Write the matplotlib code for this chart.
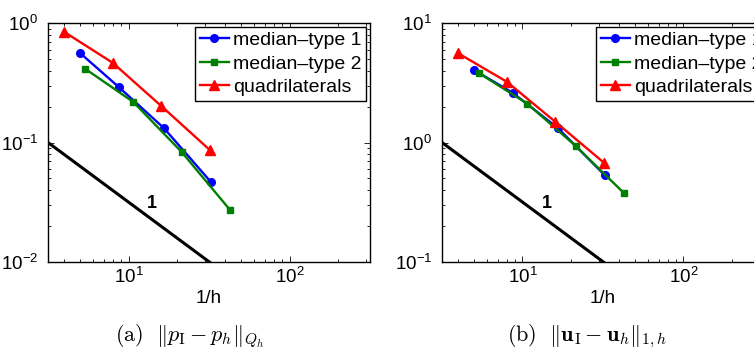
import numpy as np
import matplotlib
matplotlib.use("Agg")
import matplotlib.pyplot as plt
from matplotlib.ticker import NullFormatter, LogLocator

plt.rcParams['font.family'] = ['Liberation Sans', 'DejaVu Sans']
plt.rcParams['mathtext.fontset'] = 'custom'
plt.rcParams['mathtext.rm'] = 'Liberation Sans'
plt.rcParams['mathtext.it'] = 'Liberation Sans:italic'
plt.rcParams['mathtext.bf'] = 'Liberation Sans:bold'

# (a) pressure error
x_med1 = [5.0, 8.7, 16.6, 32.5]
x_med2 = [5.4, 10.7, 21.4, 42.7]
x_quad = [4, 8, 16, 32]
p_med1 = [0.563, 0.292, 0.132, 0.0466]
p_med2 = [0.414, 0.219, 0.0832, 0.0272]
p_quad = [0.845, 0.465, 0.202, 0.0865]

# (b) velocity error
u_med1 = [4.05, 2.61, 1.32, 0.530]
u_med2 = [3.80, 2.12, 0.935, 0.376]
u_quad = [5.59, 3.23, 1.49, 0.678]

labels = ['median\u2013type 1', 'median\u2013type 2', 'quadrilaterals']
captions = [r'$\mathrm{(a)}\ \ \Vert p_{\mathrm{I}} - p_h\Vert_{Q_h}$',
            r'$\mathrm{(b)}\ \ \Vert \mathbf{u}_{\mathrm{I}} - \mathbf{u}_h\Vert_{1,h}$']
xlim = (10 ** 0.5, 10 ** 2.5)
x_ref = np.array([10 ** 0.5, 10 ** 2.0])

fig = plt.figure(figsize=(7.54, 3.54), dpi=100)

W, H = 754.0, 354.0
ax_w = 322 / W
ax_h = (261.7 - 23.3) / H
ax_b = 1 - 261.7 / H
axes = [fig.add_axes([48 / W, ax_b, ax_w, ax_h]),
        fig.add_axes([442 / W, ax_b, ax_w, ax_h])]

panels = [
    (p_med1, p_med2, p_quad, (1e-2, 1e0), 0.1, (14.0, 0.031), (0.988, 0.986), 'upper right'),
    (u_med1, u_med2, u_quad, (1e-1, 1e1), 1.0, (14.2, 0.31), (0.478, 0.986), 'upper left'),
]

green = (0.0, 0.5, 0.0)
for ax, (y1, y2, y3, ylim, c0, lab_pos, anchor, loc) in zip(axes, panels):
    ax.loglog(x_med1, y1, '-o', color='b', lw=1.7, ms=5.5, label=labels[0])
    ax.loglog(x_med2, y2, '-s', color=green, lw=1.7, ms=4.5, label=labels[1])
    ax.loglog(x_quad, y3, '-^', color='r', lw=1.7, ms=6.5, label=labels[2])
    # slope-1 reference line
    ax.loglog(x_ref, c0 * x_ref[0] / x_ref, '-', color='k', lw=2.2)
    ax.text(lab_pos[0], lab_pos[1], '1', fontsize=13, fontweight='bold',
            ha='center', va='center')

    ax.set_xlim(xlim)
    ax.set_ylim(ylim)
    ax.xaxis.set_minor_locator(LogLocator(base=10, subs=np.arange(2, 10)))
    ax.yaxis.set_minor_locator(LogLocator(base=10, subs=np.arange(2, 10)))
    ax.xaxis.set_minor_formatter(NullFormatter())
    ax.yaxis.set_minor_formatter(NullFormatter())
    ax.tick_params(which='both', direction='in', top=True, right=True,
                   labelsize=13.5, width=0.6)
    ax.tick_params(which='major', length=4)
    ax.tick_params(which='minor', length=2)
    ax.tick_params(axis='y', pad=7)
    ax.tick_params(axis='x', pad=4)
    for s in ax.spines.values():
        s.set_linewidth(1.0)
    ax.set_xlabel('1/h', fontsize=13.5, labelpad=2)

    leg = ax.legend(loc=loc, bbox_to_anchor=anchor, borderaxespad=0,
                    fontsize=14, fancybox=False, framealpha=1,
                    edgecolor='k', borderpad=0.25, labelspacing=0.3,
                    handlelength=1.5, handletextpad=0.2)
    leg.get_frame().set_linewidth(1.0)

fig.text(190 / W, 1 - 336 / H, captions[0], fontsize=16,
         ha='center', va='center', math_fontfamily='cm')
fig.text(587 / W, 1 - 336 / H, captions[1], fontsize=16,
         ha='center', va='center', math_fontfamily='cm')

fig.savefig('out.png', dpi=100)
